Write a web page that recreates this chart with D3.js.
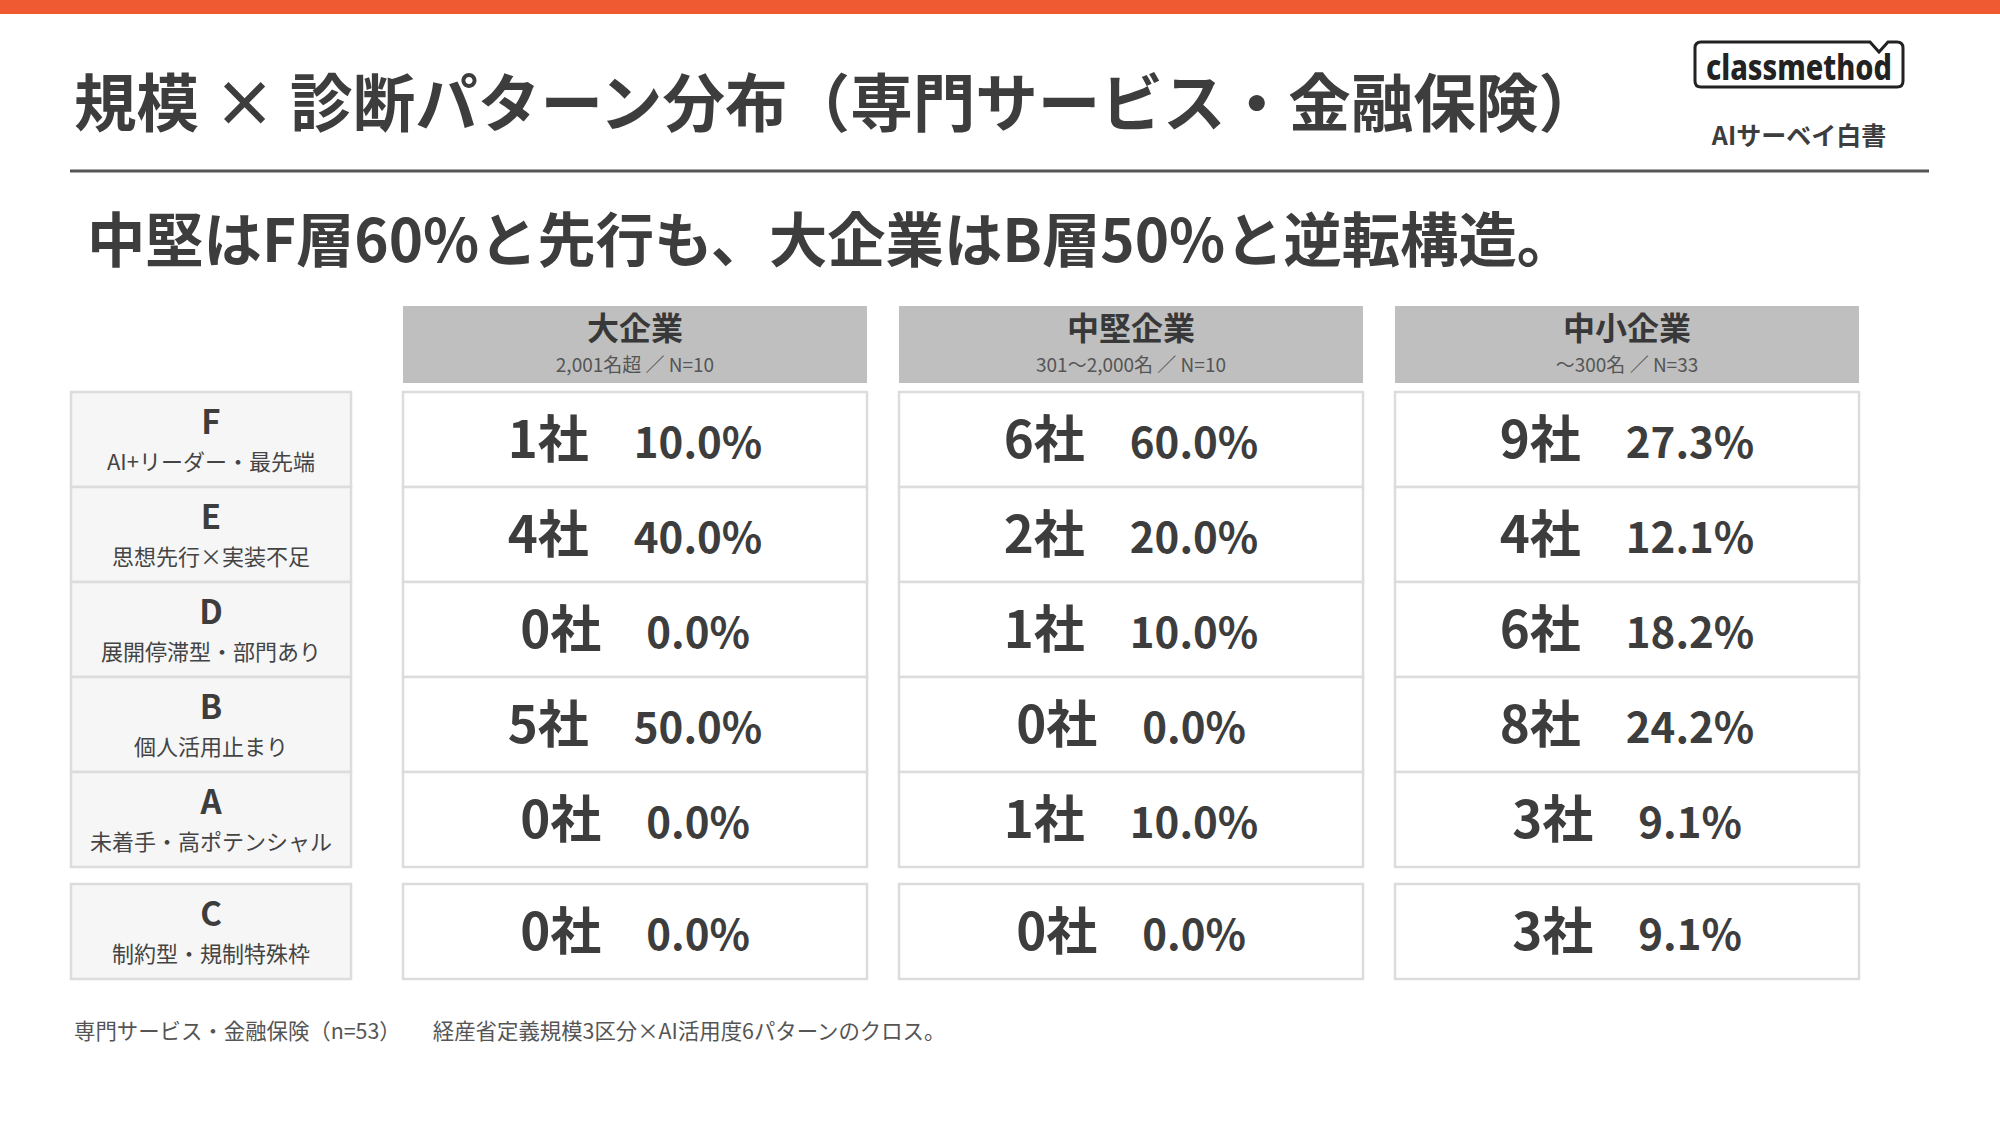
<!DOCTYPE html>
<html>
<head>
<meta charset="utf-8">
<script src="https://cdn.jsdelivr.net/npm/d3@7"></script>
<style>
  body { margin: 0; background: #fff; }
  svg { display: block; font-family: "Noto Sans CJK JP", "Noto Sans", sans-serif; }
</style>
</head>
<body>
<svg id="chart" width="2000" height="1125"></svg>
<script>
// data
const patterns = ["F", "E", "D", "B", "A", "C"];
const patternNotes = ["AI+リーダー・最先端", "思想先行×実装不足", "展開停滞型・部門あり", "個人活用止まり", "未着手・高ポテンシャル", "制約型・規制特殊枠"];
const sizes = ["大企業", "中堅企業", "中小企業"];
const sizeNotes = ["2,001名超 ／ N=10", "301〜2,000名 ／ N=10", "〜300名 ／ N=33"];
const largeCounts = [1, 4, 0, 5, 0, 0];
const midCounts = [6, 2, 1, 0, 1, 0];
const smallCounts = [9, 4, 6, 8, 3, 3];
const largePct = [10.0, 40.0, 0.0, 50.0, 0.0, 0.0];
const midPct = [60.0, 20.0, 10.0, 0.0, 10.0, 0.0];
const smallPct = [27.3, 12.1, 18.2, 24.2, 9.1, 9.1];

const title = "規模 × 診断パターン分布（専門サービス・金融保険）";
const subtitle = "中堅はF層60%と先行も、大企業はB層50%と逆転構造。";
const footnote = "専門サービス・金融保険（n=53）　　経産省定義規模3区分×AI活用度6パターンのクロス。";

const counts = [largeCounts, midCounts, smallCounts];
const pcts = [largePct, midPct, smallPct];

const svg = d3.select("#chart");
const ink = "#3d3d3d";

// top bar
svg.append("rect").attr("x", 0).attr("y", 0).attr("width", 2000).attr("height", 14).attr("fill", "#ef5a32");

// titles
svg.append("text").attr("x", 74).attr("y", 98)
  .attr("dominant-baseline", "central")
  .attr("font-size", 63).attr("font-weight", 700).attr("fill", ink)
  .attr("textLength", 1527).attr("lengthAdjust", "spacingAndGlyphs")
  .text(title);

svg.append("line").attr("x1", 70).attr("x2", 1929).attr("y1", 171).attr("y2", 171)
  .attr("stroke", "#555").attr("stroke-width", 3);

svg.append("text").attr("x", 87).attr("y", 236)
  .attr("dominant-baseline", "central")
  .attr("font-size", 59).attr("font-weight", 700).attr("fill", ink)
  .attr("textLength", 1488).attr("lengthAdjust", "spacingAndGlyphs")
  .text(subtitle);

// logo
const logo = svg.append("g");
logo.append("path")
  .attr("d", "M1701,42 H1870 L1879,52 L1888,42 H1897 Q1903,42 1903,48 V81 Q1903,87 1897,87 H1701 Q1695,87 1695,81 V48 Q1695,42 1701,42 Z")
  .attr("fill", "none").attr("stroke", "#222").attr("stroke-width", 3);
logo.append("text").attr("x", 1799).attr("y", 66)
  .attr("text-anchor", "middle").attr("dominant-baseline", "central")
  .attr("font-family", "'Noto Sans', sans-serif")
  .attr("font-size", 35).attr("font-weight", 800).attr("fill", "#222")
  .attr("textLength", 186).attr("lengthAdjust", "spacingAndGlyphs")
  .text("classmethod");
logo.append("text").attr("x", 1799).attr("y", 134)
  .attr("text-anchor", "middle").attr("dominant-baseline", "central")
  .attr("font-size", 25).attr("font-weight", 700).attr("fill", ink)
  .text("AIサーベイ白書");

// scales
const x = d3.scaleBand().domain(sizes).range([403, 1859]).paddingInner(32 / 496);
const mainRows = patterns.slice(0, 5);
const yMain = d3.scaleBand().domain(mainRows).range([392, 867]);
const rowH = yMain.bandwidth();
const rowTop = p => p === "C" ? yMain("A") + rowH + 17 : yMain(p);

// column headers
const head = svg.selectAll(".head").data(sizes).enter().append("g").attr("class", "head");
head.append("rect")
  .attr("x", d => x(d)).attr("y", 306).attr("width", x.bandwidth()).attr("height", 77)
  .attr("fill", "#bfbfbf");
head.append("text")
  .attr("x", d => x(d) + x.bandwidth() / 2).attr("y", 326)
  .attr("text-anchor", "middle").attr("dominant-baseline", "central")
  .attr("font-size", 32).attr("font-weight", 700).attr("fill", "#383838")
  .text(d => d);
head.append("text")
  .attr("x", d => x(d) + x.bandwidth() / 2).attr("y", 363)
  .attr("text-anchor", "middle").attr("dominant-baseline", "central")
  .attr("font-size", 19).attr("fill", "#555")
  .text((d, i) => sizeNotes[i]);

// row labels
const lab = svg.selectAll(".lab").data(patterns).enter().append("g").attr("class", "lab");
lab.append("rect")
  .attr("x", 71).attr("y", d => rowTop(d)).attr("width", 280).attr("height", rowH)
  .attr("fill", "#f6f6f6").attr("stroke", "#dcdcdc").attr("stroke-width", 2.5);
lab.append("text")
  .attr("x", 211).attr("y", d => rowTop(d) + 28)
  .attr("text-anchor", "middle").attr("dominant-baseline", "central")
  .attr("font-size", 33).attr("font-weight", 700).attr("fill", ink)
  .text(d => d);
lab.append("text")
  .attr("x", 211).attr("y", d => rowTop(d) + 68)
  .attr("text-anchor", "middle").attr("dominant-baseline", "central")
  .attr("font-size", 22).attr("fill", "#444")
  .text((d, i) => patternNotes[i]);

// value cells
const cells = [];
sizes.forEach((s, si) => patterns.forEach((p, pi) => {
  cells.push({ size: s, pattern: p, count: counts[si][pi], pct: pcts[si][pi] });
}));

const cell = svg.selectAll(".cell").data(cells).enter().append("g").attr("class", "cell");
cell.append("rect")
  .attr("x", d => x(d.size)).attr("y", d => rowTop(d.pattern))
  .attr("width", x.bandwidth()).attr("height", rowH)
  .attr("fill", "#fff").attr("stroke", "#dcdcdc").attr("stroke-width", 2.5);
const vt = cell.append("text")
  .attr("x", d => x(d.size) + x.bandwidth() / 2)
  .attr("y", d => rowTop(d.pattern) + rowH / 2 + 18)
  .attr("text-anchor", "middle")
  .attr("font-weight", 700).attr("fill", ink);
vt.append("tspan").attr("font-size", 51).text(d => d.count + "社");
vt.append("tspan").attr("font-size", 42).attr("dx", 45).text(d => d.pct.toFixed(1) + "%");

// footnote
svg.append("text").attr("x", 74).attr("y", 1029)
  .attr("dominant-baseline", "central")
  .attr("font-size", 21.4).attr("fill", "#555")
  .text(footnote);
</script>
</body>
</html>
